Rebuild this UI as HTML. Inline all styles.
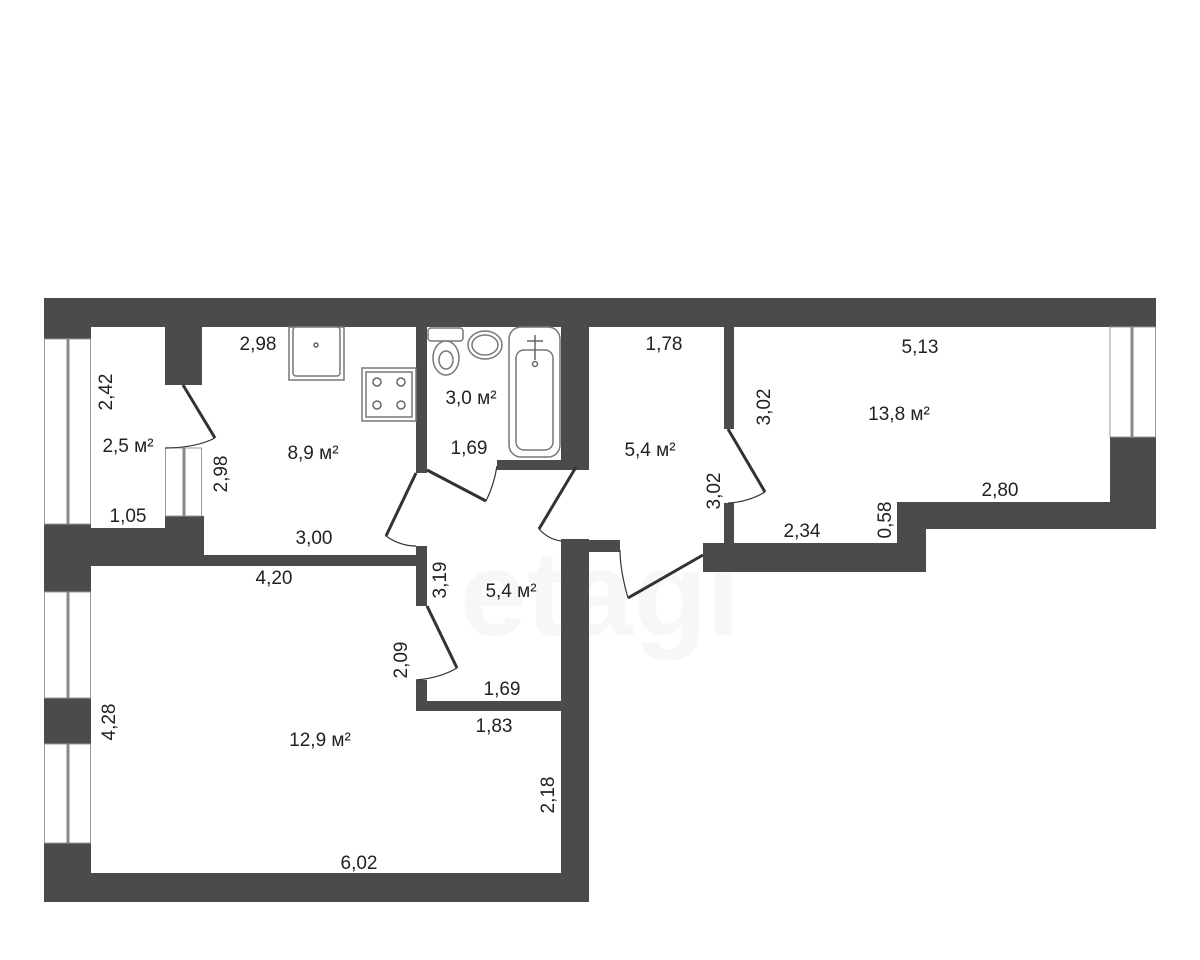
<!DOCTYPE html>
<html><head><meta charset="utf-8"><style>
html,body{margin:0;padding:0;background:#fff;}
svg{display:block;}
text{font-family:"Liberation Sans Narrow","Liberation Sans",sans-serif;font-size:19px;fill:#222;}
</style></head><body>
<svg width="1200" height="960" viewBox="0 0 1200 960" xmlns="http://www.w3.org/2000/svg">
<text x="600" y="635" text-anchor="middle" style="font-size:120px;fill:#f7f7f7;font-weight:bold">etagi</text>
<g fill="#4b4b4b">
<rect x="44" y="298" width="1112" height="29"/>
<rect x="44" y="298" width="47" height="41"/>
<rect x="44" y="524" width="47" height="68"/>
<rect x="91" y="528" width="113" height="38"/>
<rect x="165" y="516" width="39" height="50"/>
<rect x="204" y="555" width="223" height="11"/>
<rect x="44" y="698" width="47" height="46"/>
<rect x="44" y="843" width="47" height="59"/>
<rect x="44" y="873" width="545" height="29"/>
<rect x="165" y="327" width="37" height="58"/>
<rect x="416" y="327" width="11" height="146"/>
<rect x="497" y="460" width="92" height="10"/>
<rect x="561" y="327" width="28" height="143"/>
<rect x="416" y="546" width="11" height="60"/>
<rect x="416" y="680" width="11" height="31"/>
<rect x="416" y="701" width="145" height="10"/>
<rect x="561" y="539" width="28" height="363"/>
<rect x="589" y="540" width="31" height="12"/>
<rect x="724" y="327" width="10" height="102"/>
<rect x="724" y="503" width="10" height="69"/>
<rect x="703" y="543" width="223" height="29"/>
<rect x="897" y="502" width="29" height="70"/>
<rect x="897" y="502" width="259" height="27"/>
<rect x="1110" y="437" width="46" height="92"/>
</g>
<g fill="#fff" stroke="#999" stroke-width="1">
<rect x="44.5" y="339" width="46" height="185"/>
<rect x="44.5" y="592" width="46" height="106"/>
<rect x="44.5" y="744" width="46" height="99"/>
<rect x="1110" y="327" width="45.5" height="110"/>
<rect x="165.5" y="448" width="36" height="68"/>
</g>
<g stroke="#888" stroke-width="3" fill="none">
<line x1="68" y1="339" x2="68" y2="524"/>
<line x1="68" y1="592" x2="68" y2="698"/>
<line x1="68" y1="744" x2="68" y2="843"/>
<line x1="1132" y1="327" x2="1132" y2="437"/>
<line x1="184" y1="448" x2="184" y2="516"/>
</g>
<g stroke="#333" stroke-width="3" fill="none">
<line x1="183" y1="385" x2="215" y2="438"/>
<line x1="427" y1="470" x2="486" y2="501"/>
<line x1="416" y1="473" x2="386" y2="536"/>
<line x1="576" y1="467" x2="539" y2="529"/>
<line x1="427" y1="606" x2="457" y2="668"/>
<line x1="728" y1="429" x2="765" y2="492"/>
<line x1="703" y1="555" x2="628" y2="598"/>
</g>
<g stroke="#333" stroke-width="1.2" fill="none">
<path d="M215 438 Q195 448 165 448"/>
<path d="M486 501 Q494 485 497 466"/>
<path d="M386 536 Q400 546 416 546"/>
<path d="M539 529 Q548 539 561 541"/>
<path d="M457 668 Q440 678 416 680"/>
<path d="M765 492 Q748 502 728 503"/>
<path d="M628 598 Q620 570 620 550"/>
</g>
<g fill="#fff" stroke="#777" stroke-width="1.5">
<rect x="289" y="327" width="55" height="53"/>
<rect x="293" y="327" width="47" height="49" rx="3"/>
<rect x="362" y="368" width="54" height="53"/>
<rect x="366" y="372" width="46" height="45"/>
<rect x="428" y="328" width="35" height="13" rx="3"/>
<ellipse cx="446" cy="358" rx="13" ry="17"/>
<ellipse cx="446" cy="360" rx="7" ry="9"/>
<ellipse cx="485" cy="345" rx="17" ry="14"/>
<ellipse cx="485" cy="345" rx="13" ry="10"/>
<rect x="509" y="327" width="51" height="130" rx="12"/>
<rect x="516" y="350" width="37" height="100" rx="8"/>
</g>
<g fill="none" stroke="#666" stroke-width="1.5">
<circle cx="316" cy="345" r="2"/>
<circle cx="377" cy="382" r="4"/><circle cx="401" cy="382" r="4"/>
<circle cx="377" cy="405" r="4"/><circle cx="401" cy="405" r="4"/>
<line x1="535" y1="335" x2="535" y2="360"/><line x1="527" y1="341" x2="543" y2="341"/>
<circle cx="535" cy="364" r="2.5"/>
</g>
<g text-anchor="middle">
<text x="258" y="350">2,98</text>
<text x="128" y="452">2,5 м²</text>
<text x="128" y="522">1,05</text>
<text x="313" y="459">8,9 м²</text>
<text x="314" y="544">3,00</text>
<text x="471" y="404">3,0 м²</text>
<text x="469" y="454">1,69</text>
<text x="664" y="350">1,78</text>
<text x="920" y="353">5,13</text>
<text x="899" y="420">13,8 м²</text>
<text x="650" y="456">5,4 м²</text>
<text x="1000" y="496">2,80</text>
<text x="802" y="537">2,34</text>
<text x="274" y="584">4,20</text>
<text x="511" y="597">5,4 м²</text>
<text x="502" y="695">1,69</text>
<text x="494" y="732">1,83</text>
<text x="320" y="746">12,9 м²</text>
<text x="359" y="869">6,02</text>
<text transform="translate(112,392) rotate(-90)">2,42</text>
<text transform="translate(227,474) rotate(-90)">2,98</text>
<text transform="translate(770,407) rotate(-90)">3,02</text>
<text transform="translate(720,491) rotate(-90)">3,02</text>
<text transform="translate(891,520) rotate(-90)">0,58</text>
<text transform="translate(446,580) rotate(-90)">3,19</text>
<text transform="translate(407,660) rotate(-90)">2,09</text>
<text transform="translate(115,722) rotate(-90)">4,28</text>
<text transform="translate(554,795) rotate(-90)">2,18</text>
</g>
</svg>
</body></html>
